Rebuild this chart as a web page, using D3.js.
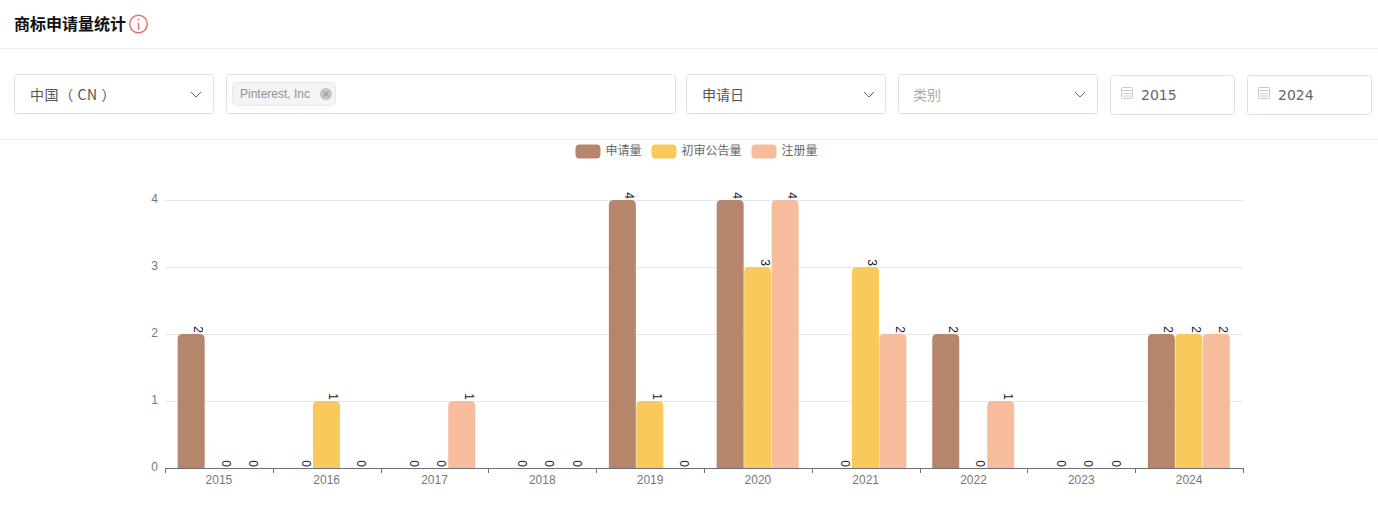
<!DOCTYPE html>
<html>
<head>
<meta charset="utf-8">
<script src="https://cdn.jsdelivr.net/npm/d3@7"></script>
<style>
  body { margin: 0; background: #fff; overflow: hidden; }
  text { font-family: "Noto Sans CJK SC", "Liberation Sans", sans-serif; }
</style>
</head>
<body>
<div id="chart"></div>
<script>
const WIDTH = 1378, HEIGHT = 528;

const years = ["2015", "2016", "2017", "2018", "2019", "2020", "2021", "2022", "2023", "2024"];
const seriesNames = ["申请量", "初审公告量", "注册量"];
const seriesColors = ["#b5866b", "#f9c95b", "#f7bc9b"];
const applied = [2, 0, 0, 0, 4, 4, 0, 2, 0, 2];
const published = [0, 1, 0, 0, 1, 3, 3, 0, 0, 2];
const registered = [0, 0, 1, 0, 0, 4, 2, 1, 0, 2];
const yTicks = [0, 1, 2, 3, 4];
const allSeries = [applied, published, registered];

const svg = d3.select("#chart").append("svg")
  .attr("width", WIDTH)
  .attr("height", HEIGHT)
  .style("display", "block");

// header
svg.append("text").attr("x", 14).attr("y", 30)
  .style("font-size", "16px").style("font-weight", "700").attr("fill", "#111")
  .text("商标申请量统计");
svg.append("circle").attr("cx", 138.5).attr("cy", 24).attr("r", 8.8)
  .attr("fill", "none").attr("stroke", "#e0706f").attr("stroke-width", 1.4);
svg.append("line").attr("x1", 138.5).attr("x2", 138.5).attr("y1", 23).attr("y2", 30)
  .attr("stroke", "#e0706f").attr("stroke-width", 1.4);
svg.append("circle").attr("cx", 138.5).attr("cy", 19.5).attr("r", 1).attr("fill", "#e0706f");

[48.5, 139.5].forEach(y => {
  svg.append("line").attr("x1", 0).attr("x2", WIDTH).attr("y1", y).attr("y2", y)
    .attr("stroke", "#ebeef2");
});

// filter boxes
function box(x, y, w, h) {
  svg.append("rect").attr("x", x + 0.5).attr("y", y + 0.5).attr("width", w - 1).attr("height", h - 1)
    .attr("rx", 3).attr("fill", "#fff").attr("stroke", "#dcdfe6");
}
function boxLabel(x, y, label, color) {
  return svg.append("text").attr("x", x).attr("y", y).attr("fill", color)
    .style("font-size", "14px").text(label);
}
function chevron(cx, cy) {
  svg.append("path").attr("d", `M${cx - 5},${cy - 3}L${cx},${cy + 2}L${cx + 5},${cy - 3}`)
    .attr("fill", "none").attr("stroke", "#666");
}
function calendar(x, y) {
  svg.append("rect").attr("x", x + 0.5).attr("y", y + 0.5).attr("width", 11).attr("height", 11)
    .attr("rx", 1).attr("fill", "none").attr("stroke", "#c5c9d2");
  svg.append("path").attr("d", `M${x},${y + 3.5}H${x + 12}M${x + 2},${y + 6.5}H${x + 10}M${x + 2},${y + 9}H${x + 10}`)
    .attr("stroke", "#c5c9d2");
}

box(14, 74, 200, 40);
boxLabel(30, 100, "中国（ CN ）", "#555").style("letter-spacing", "0.6px");
chevron(196, 95);

box(226, 74, 450, 40);
svg.append("rect").attr("x", 232.5).attr("y", 82.5).attr("width", 103).attr("height", 23)
  .attr("rx", 4).attr("fill", "#f4f4f5").attr("stroke", "#e9e9eb");
svg.append("text").attr("x", 240).attr("y", 98).attr("fill", "#909399")
  .style("font-family", "Liberation Sans").style("font-size", "12px").text("Pinterest, Inc");
svg.append("circle").attr("cx", 326).attr("cy", 94).attr("r", 6).attr("fill", "#c0c4cc");
svg.append("path").attr("d", "M323.5,91.5L328.5,96.5M328.5,91.5L323.5,96.5")
  .attr("stroke", "#909399");

box(686, 74, 200, 40);
boxLabel(702, 100, "申请日", "#555");
chevron(869, 95);

box(898, 74, 200, 40);
boxLabel(913, 100, "类别", "#aaa");
chevron(1080, 95);

box(1110, 75, 125, 40);
calendar(1121, 87);
svg.append("text").attr("x", 1141).attr("y", 100).attr("fill", "#666")
  .style("font-family", "DejaVu Sans").style("font-size", "14px").text("2015");

box(1247, 75, 125, 40);
calendar(1258, 87);
svg.append("text").attr("x", 1278).attr("y", 100).attr("fill", "#666")
  .style("font-family", "DejaVu Sans").style("font-size", "14px").text("2024");

// legend
const legendX = [575.5, 651.5, 751.5];
seriesNames.forEach((name, i) => {
  svg.append("rect").attr("x", legendX[i]).attr("y", 144.5).attr("width", 25).attr("height", 14)
    .attr("rx", 4).attr("fill", seriesColors[i]);
  svg.append("text").attr("x", legendX[i] + 30).attr("y", 155).attr("fill", "#666")
    .style("font-size", "12px").text(name);
});

// scales
const x0 = d3.scaleBand().domain(years).range([165, 1243]);
const y = d3.scaleLinear().domain([0, 4]).range([468, 200]);
const barW = 27.5;
const barX = (yi, si) => x0(years[yi]) + x0.bandwidth() / 2 + (si - 1.5) * barW;

// grid
svg.append("g").selectAll("line").data(yTicks.slice(1)).join("line")
  .attr("x1", 165).attr("x2", 1243)
  .attr("y1", d => Math.round(y(d)) + 0.5).attr("y2", d => Math.round(y(d)) + 0.5)
  .attr("stroke", "#e3e6ea");

// y labels
svg.append("g").selectAll("text").data(yTicks).join("text")
  .attr("x", 158).attr("y", d => y(d) + 3)
  .attr("text-anchor", "end").attr("fill", "#777")
  .style("font-family", "Liberation Sans").style("font-size", "12px")
  .text(d => d);

// bars
allSeries.forEach((vals, si) => {
  svg.append("g").selectAll("path").data(vals.map((v, i) => ({ v, i })).filter(d => d.v > 0)).join("path")
    .attr("d", d => {
      const l = barX(d.i, si), r = l + barW - 0.5, t = y(d.v), b = y(0), c = 5;
      return `M${l},${b}V${t + c}Q${l},${t} ${l + c},${t}H${r - c}Q${r},${t} ${r},${t + c}V${b}Z`;
    })
    .attr("fill", seriesColors[si]);

  // value labels, turned 90 degrees at the bar top
  svg.append("g").selectAll("text").data(vals.map((v, i) => ({ v, i }))).join("text")
    .attr("transform", d => `translate(${barX(d.i, si) + barW - 11},${y(d.v) - 1}) rotate(90)`)
    .attr("text-anchor", "end")
    .attr("fill", "#222")
    .style("font-family", "Liberation Sans").style("font-size", "12px")
    .text(d => d.v);
});

// x axis
const axis = svg.append("g");
axis.append("line").attr("x1", 165).attr("x2", 1243).attr("y1", 468.5).attr("y2", 468.5).attr("stroke", "#6e7079");
axis.selectAll("line.tick").data(d3.range(years.length + 1)).join("line")
  .attr("class", "tick")
  .attr("x1", i => Math.round(165 + i * x0.bandwidth()) + 0.5)
  .attr("x2", i => Math.round(165 + i * x0.bandwidth()) + 0.5)
  .attr("y1", 468).attr("y2", 473).attr("stroke", "#6e7079");
axis.selectAll("text").data(years).join("text")
  .attr("x", d => x0(d) + x0.bandwidth() / 2).attr("y", 484)
  .attr("text-anchor", "middle").attr("fill", "#777")
  .style("font-family", "Liberation Sans").style("font-size", "12px")
  .text(d => d);
</script>
</body>
</html>
